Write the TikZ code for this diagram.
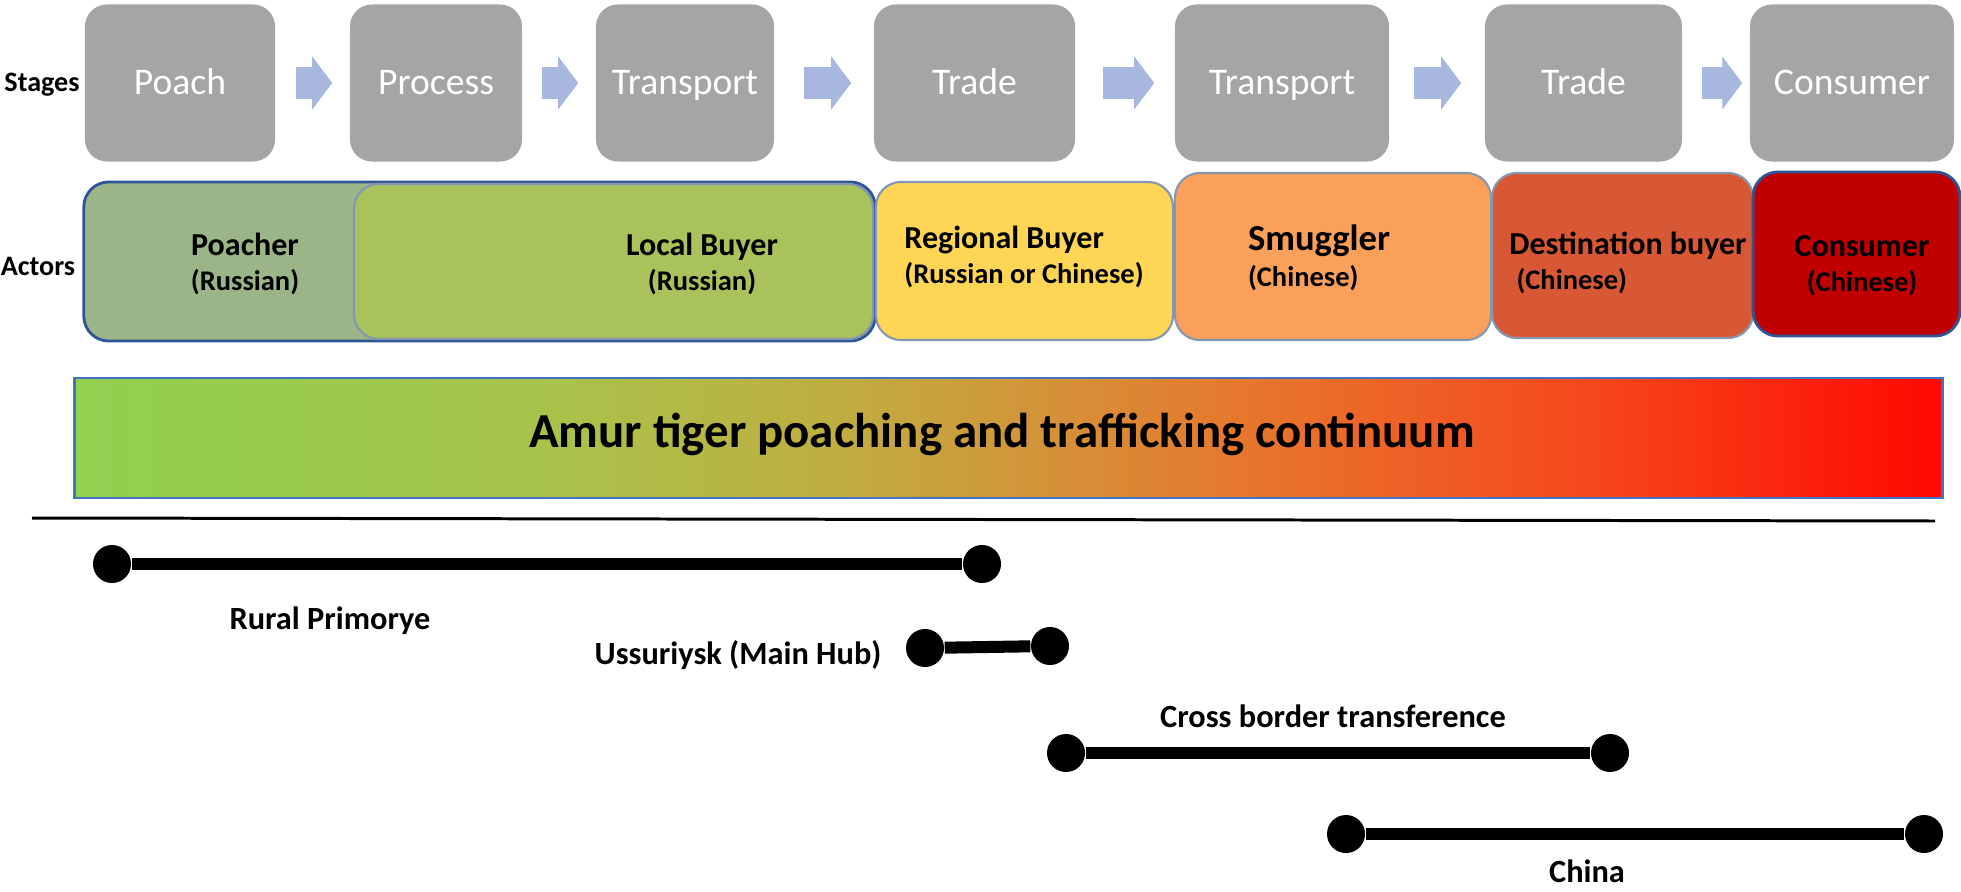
\documentclass[tikz,border=0pt]{standalone}
\usepackage{fontspec}
\setmainfont{Carlito}
\usetikzlibrary{arrows.meta,positioning}

\definecolor{stagegray}{RGB}{165,165,165}
\definecolor{flowblue}{RGB}{168,183,222}
\definecolor{darkblue}{RGB}{47,85,151}
\definecolor{edgeblue}{RGB}{132,151,176}
\definecolor{poachgreen}{RGB}{155,180,136}
\definecolor{buyergreen}{RGB}{169,194,91}
\definecolor{regyellow}{RGB}{255,213,85}
\definecolor{smugorange}{RGB}{251,160,90}
\definecolor{destred}{RGB}{216,88,53}
\definecolor{consred}{RGB}{192,0,0}
\definecolor{barblue}{RGB}{68,114,196}
% continuum colours, green to red
\definecolor{cgreen}{RGB}{146,208,80}
\definecolor{cgreenb}{RGB}{150,205,78}
\definecolor{cyg}{RGB}{168,195,75}
\definecolor{cyellow}{RGB}{190,175,65}
\definecolor{cochre}{RGB}{208,152,58}
\definecolor{corange}{RGB}{230,120,45}
\definecolor{cdeep}{RGB}{245,75,30}
\definecolor{cred}{RGB}{255,8,0}
\pgfdeclarehorizontalshading{continuum}{100bp}{color(0bp)=(cgreen); color(25bp)=(cgreen);
  color(29bp)=(cgreenb); color(37.5bp)=(cyg); color(45bp)=(cyellow); color(50bp)=(cochre);
  color(56bp)=(corange); color(65bp)=(cdeep); color(75bp)=(cred); color(100bp)=(cred)}

\begin{document}
\begin{tikzpicture}[x=0.01cm, y=-0.01cm]
    \tikzset{stage/.style= {fill=stagegray, rounded corners=0.22cm
    , text=white, inner sep=0pt
    , minimum height=1.57cm
    , text height=0.85em, text depth=0.2em
    , font=\fontsize{10.7}{12.8}\selectfont
      }
    , flow/.style 2 args= {draw=flowblue, line width=0.32cm
    , -{Triangle[width=0.52cm, length=0.2cm]}
    , shorten <=#1, shorten >=#2
      }
    , actor/.style= {draw=edgeblue, fill=#1, line width=0.6pt
    , rounded corners=0.25cm, inner sep=0pt
      }
    , who/.style= {align=center, inner sep=0pt
    , font=\bfseries\fontsize{9.1}{9.9}\selectfont
      }
    , rowlabel/.style= {inner sep=0pt, text height=0.85em, text depth=0.2em
    , font=\bfseries\fontsize{8}{10}\selectfont
      }
    , place/.style= {inner sep=0pt, text height=0.85em, text depth=0.2em
    , font=\bfseries\fontsize{9.2}{11}\selectfont
      }
    , dot/.style= {circle, fill=black, minimum size=0.38cm, inner sep=0pt}
    , span/.style= {line width=0.12cm}
    }
\useasboundingbox (0,0) rectangle (1961,891);

% stages
\node [rowlabel] (stages) at (42,80) {Stages};
\node [stage, minimum width=1.90cm] (poach) at (180,83) {Poach};
\node [stage, minimum width=1.72cm] (process) at (436,83) {Process};
\node [stage, minimum width=1.78cm] (transport1) at (685,83) {Transport};
\node [stage, minimum width=2.01cm] (trade1) at (974.5,83) {Trade};
\node [stage, minimum width=2.14cm] (transport2) at (1282,83) {Transport};
\node [stage, minimum width=1.97cm] (trade2) at (1583.5,83) {Trade};
\node [stage, minimum width=2.04cm] (consumer) at (1852,83) {Consumer};

\draw [flow={0.20cm}{0.17cm}] (poach) -- (process);
\draw [flow={0.19cm}{0.17cm}] (process) -- (transport1);
\draw [flow={0.29cm}{0.22cm}] (transport1) -- (trade1);
\draw [flow={0.27cm}{0.20cm}] (trade1) -- (transport2);
\draw [flow={0.24cm}{0.23cm}] (transport2) -- (trade2);
\draw [flow={0.19cm}{0.07cm}] (trade2) -- (consumer);

% actors
\node [rowlabel] (actors) at (38,264) {Actors};
\node [actor=poachgreen, draw=darkblue, line width=0.8pt
      , minimum width=7.91cm, minimum height=1.59cm] (poacher) at (479.5,261.5) {};
\node [actor=buyergreen, minimum width=5.19cm, minimum height=1.55cm] (localbuyer) at (613.5,261.5) {};
\node [actor=regyellow, minimum width=2.97cm, minimum height=1.58cm] (regional) at (1024.5,261) {};
\node [actor=smugorange, minimum width=3.16cm, minimum height=1.67cm] (smuggler) at (1333,256.5) {};
\node [actor=destred, minimum width=2.61cm, minimum height=1.65cm] (destination) at (1622.5,255.5) {};
\node [actor=consred, draw=darkblue, line width=0.8pt
      , minimum width=2.07cm, minimum height=1.64cm] (endconsumer) at (1856.5,254) {};

\node [who] (poacherT) at (245,264) {Poacher\\{\fontsize{8.1}{9.9}\selectfont (Russian)}};
\node [who] (localbuyerT) at (702,264) {Local Buyer\\{\fontsize{8.1}{9.9}\selectfont (Russian)}};
\node [who, align=left] (regionalT) at (1024,257) {Regional Buyer\\{\fontsize{8.1}{9.9}\selectfont (Russian or Chinese)}};
\node [who, align=left, font=\bfseries\fontsize{10.4}{10.2}\selectfont] (smugglerT) at (1319,258)
      {Smuggler\\{\fontsize{8.1}{10.2}\selectfont (Chinese)}};
\node [who, align=left] (destinationT) at (1628,263) {Destination buyer\\{\fontsize{8.1}{9.9}\selectfont \hspace{2pt}(Chinese)}};
\node [who] (endconsumerT) at (1862,266) {Consumer\\{\fontsize{8.1}{9.9}\selectfont (Chinese)}};

% continuum bar
\node [shading=continuum, draw=barblue, line width=0.8pt, inner sep=0pt
      , minimum width=18.67cm, minimum height=1.20cm] (continuum) at (1008.5,438) {};
\node [inner sep=0pt, text height=11.8pt, text depth=2.8pt
      , font=\bfseries\fontsize{13.9}{16}\selectfont] (continuumT) at (1002,432)
      {Amur tiger poaching and trafficking continuum};

\coordinate (ruleL) at (32,518);
\coordinate (ruleR) at (1935,521);
\draw [line width=0.85pt] (ruleL) -- (ruleR);

% places
\node [dot] (rural1) at (112,564) {};
\node [dot] (rural2) at (982,564) {};
\draw [span] (rural1) -- (rural2);
\node [place] (ruralT) at (330,618) {Rural Primorye};

\node [dot] (hub1) at (925,648) {};
\node [dot] (hub2) at (1050,646) {};
\draw [span] (hub1) -- (hub2);
\node [place] (hubT) at (738,653) {Ussuriysk (Main Hub)};

\node [dot] (border1) at (1066,753) {};
\node [dot] (border2) at (1610,753) {};
\draw [span] (border1) -- (border2);
\node [place] (borderT) at (1333,716) {Cross border transference};

\node [dot] (china1) at (1346,834) {};
\node [dot] (china2) at (1924,834) {};
\draw [span] (china1) -- (china2);
\node [place] (chinaT) at (1587,871) {China};
\end{tikzpicture}
\end{document}
